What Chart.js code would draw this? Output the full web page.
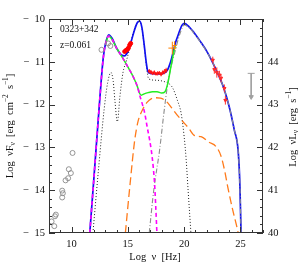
<!DOCTYPE html>
<html>
<head>
<meta charset="utf-8">
<script src="https://cdn.jsdelivr.net/npm/chart.js@4.4.0/dist/chart.umd.min.js"></script>
<style>
  html, body { margin: 0; padding: 0; background: #fff; }
  #wrap { width: 303px; height: 264px; position: relative; }
</style>
</head>
<body>
<div id="wrap"><canvas id="sed"></canvas></div>
<script>
// log nu [Hz] vs log nuFnu [erg cm-2 s-1]
const totalNu = [11.62, 12.0, 12.5, 12.8, 13.0, 13.3, 13.6, 14.0, 14.4, 14.7, 15.0, 15.3, 15.6, 15.85, 16.05, 16.25, 16.45, 16.65, 16.78, 17.0, 17.5, 18.0, 18.5, 18.8, 19.0, 19.2, 19.5, 19.8, 20.0, 20.5, 21.0, 21.5, 22.0, 22.5, 23.0, 23.5, 24.0, 24.45, 24.8, 24.95, 25.05];
const totalF = [-15, -13.67, -11.9, -10.95, -10.6, -10.37, -10.45, -10.68, -10.83, -10.86, -10.76, -10.52, -10.25, -10.08, -10.05, -10.2, -10.6, -11.05, -11.23, -11.27, -11.28, -11.28, -11.2, -11.0, -10.8, -10.58, -10.35, -10.15, -10.1, -10.2, -10.36, -10.55, -10.75, -11.0, -11.28, -11.6, -12.05, -12.59, -13.1, -13.9, -15];

const syncNu = [11.62, 12.0, 12.5, 12.8, 13.0, 13.3, 13.6, 14.0, 14.4, 14.7, 15.0, 15.3, 15.6, 15.85, 16.05, 16.3, 16.5, 16.7, 16.93, 17.1, 17.25, 17.37, 17.48, 17.58];
const syncF = [-15, -13.67, -11.9, -10.95, -10.6, -10.4, -10.48, -10.68, -10.85, -10.98, -11.12, -11.26, -11.42, -11.58, -11.78, -12.0, -12.2, -12.5, -12.82, -13.1, -13.45, -13.83, -14.4, -15];

const syncSscNu = [13.0, 13.3, 13.6, 14.0, 14.4, 14.7, 15.0, 15.3, 15.6, 15.85, 16.05, 16.2, 16.45, 16.8, 17.2, 17.6, 18.0, 18.3, 18.55, 18.8, 19.0, 19.2];
const syncSscF = [-10.6, -10.4, -10.48, -10.68, -10.85, -10.98, -11.12, -11.26, -11.42, -11.58, -11.74, -11.78, -11.75, -11.72, -11.7, -11.7, -11.73, -11.7, -11.5, -11.15, -10.87, -10.62];

const sscNu = [14.78, 15.2, 15.6, 15.9, 16.3, 16.7, 17.1, 17.5, 17.9, 18.4, 18.9, 19.4, 19.9, 20.4, 20.9, 21.5, 22.2, 22.83, 23.27, 23.6, 23.86, 24.3, 24.7, 24.8];
const sscF = [-15, -13.85, -12.85, -12.4, -12.12, -11.95, -11.86, -11.84, -11.85, -11.92, -12.08, -12.25, -12.4, -12.55, -12.72, -12.75, -12.88, -12.98, -13.2, -13.55, -13.91, -14.45, -14.88, -15];

const ecNu = [16.9, 17.3, 17.82, 18.2, 18.55, 18.9, 19.2, 19.5, 19.8, 20.0, 20.5, 21.0, 21.5, 22.0, 22.5, 23.0, 23.5, 24.0, 24.45, 24.8, 24.95, 25.05];
const ecF = [-15, -14.0, -13.06, -12.2, -11.5, -11.05, -10.75, -10.45, -10.22, -10.14, -10.22, -10.38, -10.56, -10.76, -11.0, -11.28, -11.6, -12.05, -12.59, -13.1, -13.9, -15];

const thermNu = [11.9, 12.4, 12.9, 13.2, 13.5, 13.7, 13.85, 14.07, 14.3, 14.57, 14.87, 15.2, 15.5, 15.8, 16.05, 16.25, 16.45, 16.65, 16.85, 17.5, 18.2, 18.7, 19.0, 19.4, 19.73, 20.0, 20.18, 20.35, 20.5, 20.6];
const thermF = [-15, -13.5, -12.1, -11.5, -11.25, -11.45, -11.9, -12.4, -11.8, -11.25, -10.98, -10.65, -10.3, -10.1, -10.06, -10.22, -10.62, -11.1, -11.4, -11.43, -11.46, -11.52, -11.62, -11.9, -12.2, -12.75, -13.29, -14.0, -14.6, -15];

// data points
const radioNu = [8.23, 8.47, 8.53, 8.61, 9.17, 9.17, 9.23, 9.47, 9.7, 9.76, 9.94, 10.09, 12.66, 13.25, 13.45];
const radioF = [-14.73, -14.84, -14.61, -14.57, -14.17, -14.01, -14.07, -13.77, -13.72, -13.51, -13.6, -13.13, -10.72, -10.57, -10.63];

const optNu = [14.72, 14.85, 14.96, 15.05, 15.16, 15.25];
const optF = [-10.76, -10.73, -10.71, -10.68, -10.61, -10.57];

const xrayNu = [16.9, 17.05, 17.2, 17.35, 17.5, 17.65, 17.8, 17.95, 18.1, 18.25, 18.4];
const xrayF = [-11.22, -11.24, -11.27, -11.25, -11.28, -11.27, -11.26, -11.29, -11.25, -11.23, -11.2];
const xrayErr = [0.05, 0.05, 0.04, 0.05, 0.04, 0.05, 0.04, 0.05, 0.05, 0.06, 0.06];

const hardNu = [18.95, 19.15];
const hardF = [-10.68, -10.62];
const hardErrNu = [0.35, 0.2];
const hardErrF = [0.15, 0.1];

const gammaNu = [22.54, 22.68, 22.9, 23.13, 23.27, 23.57, 23.66];
const gammaF = [-10.96, -11.18, -11.25, -11.31, -11.38, -11.62, -11.9];
const gammaErr = [0.08, 0.1, 0.12, 0.1, 0.1, 0.09, 0.1];
const gammaBin = [0.12, 0.12, 0.12, 0.12, 0.12, 0.12, 0.12];

const limitNu = [25.95, 25.95];
const limitF = [-11.27, -11.82];

const pts = (xs, ys) => xs.map((x, i) => ({ x: x, y: ys[i] }));

function vBars(xs, ys, err) {
  const out = [];
  xs.forEach((x, i) => {
    const e = Array.isArray(err) ? err[i] : err;
    out.push({ x: x, y: ys[i] - e }, { x: x, y: ys[i] + e }, { x: x, y: null });
  });
  return out;
}
function hBars(xs, ys, err) {
  const out = [];
  xs.forEach((x, i) => {
    out.push({ x: x - err[i], y: ys[i] }, { x: x + err[i], y: ys[i] }, { x: x + err[i], y: null });
  });
  return out;
}

const curve = (data, color, width, dash, order) => ({
  data: data, borderColor: color, borderWidth: width, borderDash: dash,
  pointRadius: 0, fill: false, cubicInterpolationMode: 'monotone', order: order
});
const bars = (data, color, order) => ({
  data: data, borderColor: color, borderWidth: 1, pointRadius: 0,
  spanGaps: false, fill: false, order: order
});

const SERIF = '"Liberation Serif", "DejaVu Serif", serif';

function richText(ctx, parts, size) {
  let w = 0;
  parts.forEach(p => {
    ctx.font = (p[1] ? size * 0.7 : size) + 'px ' + SERIF;
    w += ctx.measureText(p[0]).width;
  });
  let x = -w / 2;
  parts.forEach(p => {
    ctx.font = (p[1] ? size * 0.7 : size) + 'px ' + SERIF;
    const dy = p[1] === 1 ? size * 0.25 : p[1] === 2 ? -size * 0.35 : 0;
    ctx.fillText(p[0], x, dy);
    x += ctx.measureText(p[0]).width;
  });
}

const decor = {
  id: 'decor',
  afterDraw(chart) {
    const ctx = chart.ctx, a = chart.chartArea;
    const xs = chart.scales.x, ys = chart.scales.y, ys2 = chart.scales.y2;
    ctx.save();
    ctx.strokeStyle = '#333';
    ctx.lineWidth = 1;
    ctx.strokeRect(a.left + 0.5, a.top + 0.5, a.right - a.left - 1, a.bottom - a.top - 1);
    ctx.beginPath();
    for (let v = 8; v <= 27; v++) {
      const px = Math.round(xs.getPixelForValue(v)) + 0.5;
      const len = v % 5 === 0 ? 6 : 3;
      ctx.moveTo(px, a.bottom); ctx.lineTo(px, a.bottom - len);
      ctx.moveTo(px, a.top); ctx.lineTo(px, a.top + len);
    }
    for (let k = 0; k <= 25; k++) {
      const v = -15 + k * 0.2;
      const py = Math.round(ys.getPixelForValue(v)) + 0.5;
      const len = k % 5 === 0 ? 6 : 3;
      ctx.moveTo(a.left, py); ctx.lineTo(a.left + len, py);
      const v2 = 40 + k * 0.2;
      const py2 = Math.round(ys2.getPixelForValue(v2)) + 0.5;
      ctx.moveTo(a.right, py2); ctx.lineTo(a.right - len, py2);
    }
    ctx.stroke();

    ctx.fillStyle = '#111';
    ctx.textBaseline = 'middle';
    ctx.textAlign = 'left';
    ctx.font = '9.5px ' + SERIF;
    ctx.fillText('0323+342', 60, 29);
    ctx.fillText('z=0.061', 60, 45);

    ctx.save();
    ctx.translate(155, 257);
    richText(ctx, [['Log  \u03bd  [Hz]', 0]], 10.5);
    ctx.restore();

    ctx.save();
    ctx.translate(10, 126);
    ctx.rotate(-Math.PI / 2);
    richText(ctx, [['Log  \u03bdF', 0], ['\u03bd', 1], ['  [erg  cm', 0], ['\u22122', 2], ['  s', 0], ['\u22121', 2], [']', 0]], 10.5);
    ctx.restore();

    ctx.save();
    ctx.translate(293, 127);
    ctx.rotate(-Math.PI / 2);
    richText(ctx, [['Log  \u03bdL', 0], ['\u03bd', 1], ['  [erg  s', 0], ['\u22121', 2], [']', 0]], 10.5);
    ctx.restore();
    ctx.restore();
  }
};

const tickFont = { family: SERIF, size: 10.5 };
const minus = v => String(v).replace('-', '\u2212\u2002');

new Chart(document.getElementById('sed'), {
  type: 'line',
  data: {
    datasets: [
      // data points (top)
      bars(vBars(optNu, optF, 0.03), '#ff0000', 0),
      { data: pts(optNu, optF), showLine: false, pointRadius: 2, pointBackgroundColor: '#ff0000', pointBorderColor: '#ff0000', order: 0 },
      bars(vBars(xrayNu, xrayF, xrayErr), '#ff2020', 0),
      { data: pts(xrayNu, xrayF), showLine: false, pointRadius: 1, pointBackgroundColor: '#ff0000', pointBorderColor: '#ff0000', order: 0 },
      bars(vBars(gammaNu, gammaF, gammaErr), '#ff3030', 0),
      bars(hBars(gammaNu, gammaF, gammaBin), '#ff3030', 0),
      { data: pts(gammaNu, gammaF), showLine: false, pointStyle: 'triangle', rotation: 180, pointRadius: 1.8, pointBackgroundColor: '#ff2020', pointBorderColor: '#ff2020', order: 0 },
      bars(vBars(hardNu, hardF, hardErrF), '#ff8000', 1),
      bars(hBars(hardNu, hardF, hardErrNu), '#ff8000', 1),
      { data: pts(radioNu, radioF), showLine: false, pointRadius: 2.5, pointBackgroundColor: 'rgba(0,0,0,0)', pointBorderColor: '#8a8a8a', pointBorderWidth: 0.9, order: 1 },
      { data: pts(limitNu, limitF), borderColor: '#a0a0a0', borderWidth: 1, pointStyle: ['line', 'triangle'], rotation: [0, 180], pointRadius: [3.5, 2.5],
        pointBorderColor: '#a0a0a0', pointBackgroundColor: '#a0a0a0', order: 1 },
      // model components
      curve(pts(syncNu, syncF), '#ff00ff', 1.6, [4, 3], 3),
      curve(pts(syncSscNu, syncSscF), '#22ee22', 1.5, [], 4),
      curve(pts(ecNu, ecF), '#8c8c8c', 1.1, [5, 2, 1, 2], 5),
      curve(pts(totalNu, totalF), '#1010f0', 1.7, [], 6),
      curve(pts(sscNu, sscF), '#ff7a1a', 1.3, [8, 4], 7),
      curve(pts(thermNu, thermF), '#202020', 1, [1, 2], 8)
    ]
  },
  options: {
    responsive: true,
    maintainAspectRatio: false,
    animation: false,
    events: [],
    layout: { padding: { top: 19, left: 0, right: 0, bottom: 0 } },
    plugins: { legend: { display: false }, tooltip: { enabled: false } },
    scales: {
      x: {
        type: 'linear', min: 8, max: 27,
        grid: { display: false, drawTicks: false },
        border: { display: false },
        afterBuildTicks: s => { s.ticks = [10, 15, 20, 25].map(v => ({ value: v })); },
        afterFit: s => { s.height = 31; },
        ticks: { font: tickFont, color: '#111', padding: 5, maxRotation: 0 }
      },
      y: {
        type: 'linear', position: 'left', min: -15, max: -10,
        grid: { display: false, drawTicks: false },
        border: { display: false },
        afterBuildTicks: s => { s.ticks = [-15, -14, -13, -12, -11, -10].map(v => ({ value: v })); },
        afterFit: s => { s.width = 49; },
        ticks: { font: tickFont, color: '#111', padding: 4, callback: v => minus(v) }
      },
      y2: {
        type: 'linear', position: 'right', min: 40, max: 45,
        grid: { display: false, drawTicks: false },
        border: { display: false },
        afterBuildTicks: s => { s.ticks = [40, 41, 42, 43, 44].map(v => ({ value: v })); },
        afterFit: s => { s.width = 40; },
        ticks: { font: tickFont, color: '#111', padding: 5 }
      }
    }
  },
  plugins: [decor]
});
</script>
</body>
</html>
